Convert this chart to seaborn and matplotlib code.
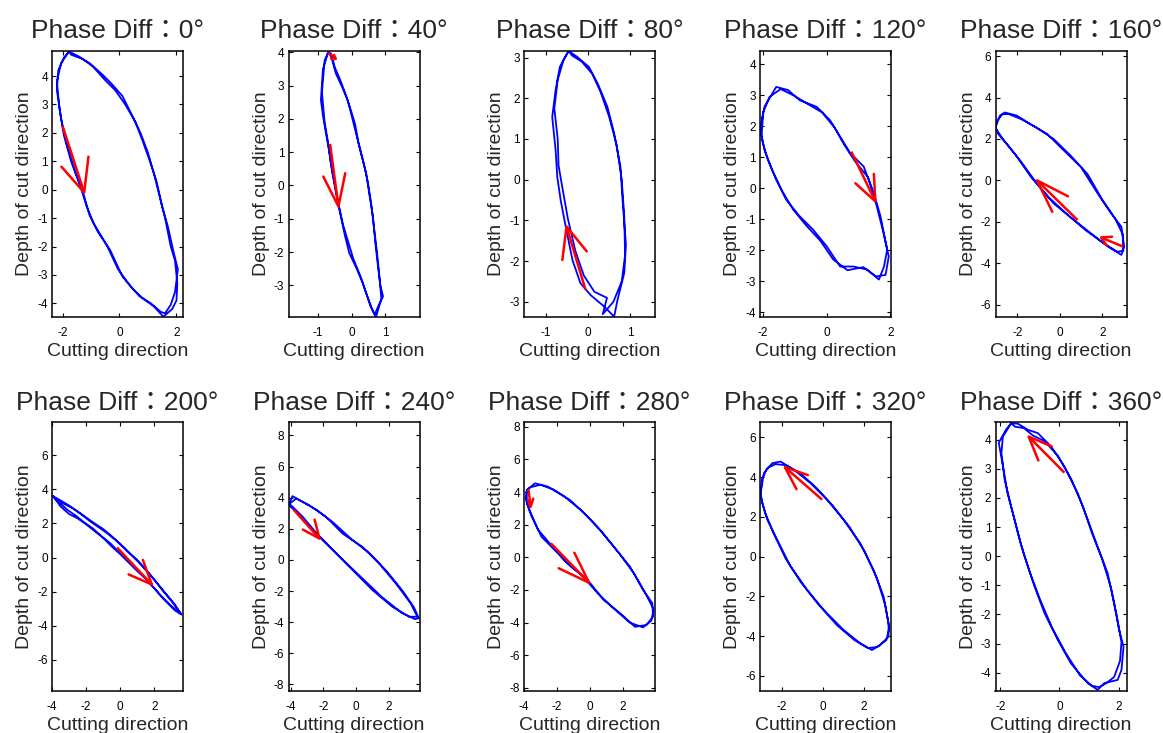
import matplotlib
matplotlib.use("Agg")
import matplotlib.pyplot as plt
import seaborn as sns

# phase differences (deg)
phases = [0, 40, 80, 120, 160, 200, 240, 280, 320, 360]

# --- tool-tip trajectories (two laps each) ---
x_000 = [-1.77, -1.45, -1.05, -0.6, -0.3, 0.1, 0.45, 0.74, 1.0, 1.2, 1.44, 1.6, 1.8, 1.95, 2.03, 2.0, 1.85, 1.54, 1.2, 0.85, 0.5, 0.1, -0.33, -0.75, -1.05, -1.27, -1.55, -1.85, -2.05, -2.2, -2.15, -1.95, -1.77,
         -1.7, -1.3, -0.95, -0.5, -0.15, 0.2, 0.55, 0.8, 1.05, 1.3, 1.5, 1.7, 1.9, 2.05, 1.95, 1.8, 1.6, 1.45, 1.1, 0.7, 0.35, -0.05, -0.45, -0.9, -1.15, -1.4, -1.7, -1.95, -2.1, -2.2, -2.05, -1.85, -1.77]
y_000 = [4.86, 4.7, 4.45, 4.05, 3.75, 3.3, 2.6, 1.99, 1.3, 0.6, -0.36, -1.0, -2.0, -2.5, -3.3, -3.9, -4.2, -4.47, -4.1, -3.85, -3.53, -3.05, -2.12, -1.5, -0.9, -0.13, 0.6, 1.6, 2.5, 3.51, 4.2, 4.65, 4.86,
         4.75, 4.6, 4.35, 3.85, 3.5, 3.0, 2.4, 1.75, 1.05, 0.3, -0.6, -1.3, -2.2, -2.8, -3.6, -4.05, -4.35, -4.3, -4.0, -3.75, -3.35, -2.8, -1.95, -1.2, -0.6, 0.2, 1.0, 1.9, 2.8, 3.8, 4.45, 4.75, 4.86]

x_040 = [-0.69, -0.59, -0.47, -0.3, -0.12, 0.0, 0.13, 0.28, 0.43, 0.53, 0.63, 0.7, 0.78, 0.85, 0.93, 0.8, 0.68, 0.55, 0.33, 0.15, -0.07, -0.2, -0.32, -0.45, -0.57, -0.66, -0.76, -0.85, -0.91, -0.85, -0.69,
         -0.6, -0.5, -0.35, -0.2, -0.05, 0.1, 0.2, 0.35, 0.48, 0.58, 0.66, 0.75, 0.82, 0.88, 0.78, 0.72, 0.6, 0.42, 0.25, 0.05, -0.1, -0.25, -0.38, -0.5, -0.62, -0.7, -0.8, -0.88, -0.8, -0.69]
y_040 = [4.02, 3.82, 3.37, 3.0, 2.57, 2.1, 1.57, 0.95, 0.37, -0.3, -0.93, -1.7, -2.43, -3.0, -3.33, -3.6, -3.88, -3.6, -2.93, -2.5, -2.03, -1.5, -0.93, -0.3, 0.37, 1.0, 1.57, 2.1, 2.57, 3.5, 4.02,
         3.95, 3.55, 3.2, 2.8, 2.35, 1.85, 1.3, 0.7, 0.1, -0.55, -1.25, -2.0, -2.7, -3.4, -3.75, -3.95, -3.7, -3.2, -2.7, -2.2, -1.7, -1.2, -0.6, 0.05, 0.7, 1.3, 1.9, 2.8, 3.75, 4.02]

x_080 = [-0.46, -0.25, 0.02, 0.23, 0.46, 0.62, 0.77, 0.82, 0.9, 0.86, 0.7, 0.62, 0.38, 0.06, -0.18, -0.37, -0.53, -0.65, -0.73, -0.77, -0.85, -0.77, -0.67, -0.46,
         -0.38, -0.15, 0.1, 0.3, 0.5, 0.68, 0.8, 0.86, 0.88, 0.8, 0.6, 0.35, 0.45, 0.15, -0.1, -0.3, -0.48, -0.6, -0.7, -0.72, -0.8, -0.72, -0.58, -0.46]
y_080 = [3.16, 3.01, 2.77, 2.36, 1.79, 1.14, 0.32, -0.5, -1.6, -2.29, -2.95, -3.36, -3.11, -2.83, -2.54, -1.97, -1.15, -0.5, 0.07, 0.73, 1.54, 2.2, 2.77, 3.16,
         3.05, 2.9, 2.6, 2.15, 1.55, 0.85, 0.0, -0.9, -1.85, -2.5, -3.0, -3.3, -2.9, -2.75, -2.35, -1.75, -0.95, -0.25, 0.35, 1.0, 1.75, 2.45, 2.95, 3.16]

x_120 = [-2.09, -1.96, -1.59, -1.22, -0.85, -0.32, 0.1, 0.42, 0.74, 1.16, 1.48, 1.69, 1.9, 1.8, 1.64, 1.27, 0.84, 0.42, 0.0, -0.43, -0.85, -1.27, -1.59, -1.85, -2.01, -2.09,
         -2.0, -1.8, -1.45, -1.05, -0.65, -0.15, 0.25, 0.55, 0.9, 1.3, 1.55, 1.75, 1.95, 1.85, 1.55, 1.15, 0.65, 0.2, -0.2, -0.65, -1.05, -1.4, -1.7, -1.95, -2.05, -2.0]
y_120 = [1.88, 2.63, 3.27, 3.17, 2.84, 2.63, 2.2, 1.66, 1.13, 0.7, -0.16, -0.91, -1.99, -2.53, -2.95, -2.63, -2.53, -2.53, -1.88, -1.34, -0.91, -0.38, 0.27, 0.91, 1.45, 1.88,
         2.45, 2.95, 3.2, 3.0, 2.75, 2.45, 1.95, 1.4, 0.85, 0.35, -0.5, -1.3, -2.2, -2.8, -2.85, -2.55, -2.65, -2.3, -1.7, -1.2, -0.7, -0.1, 0.55, 1.2, 1.7, 2.45]

x_160 = [-3.03, -2.82, -2.59, -2.03, -1.4, -0.6, 0.19, 0.99, 1.78, 2.41, 2.89, 3.02, 2.89, 2.26, 1.46, 0.67, -0.29, -1.08, -1.87, -2.5, -2.9, -3.03,
         -2.95, -2.7, -2.4, -1.8, -1.1, -0.3, 0.5, 1.3, 2.0, 2.6, 2.95, 2.98, 2.7, 2.0, 1.2, 0.4, -0.55, -1.35, -2.1, -2.65, -2.95, -3.03]
y_160 = [2.56, 3.13, 3.28, 3.13, 2.72, 2.24, 1.44, 0.64, -0.64, -1.6, -2.24, -3.2, -3.6, -3.2, -2.56, -1.92, -1.12, -0.16, 0.96, 1.76, 2.24, 2.56,
         2.9, 3.2, 3.2, 2.95, 2.55, 2.0, 1.2, 0.3, -0.95, -1.85, -2.6, -3.4, -3.45, -3.0, -2.4, -1.7, -0.8, 0.15, 1.25, 1.95, 2.4, 2.56]

x_200 = [-3.94, -3.5, -3.0, -2.5, -2.0, -1.5, -1.0, -0.5, 0.0, 0.5, 1.0, 1.5, 2.0, 2.5, 3.0, 3.6, 3.2, 2.5, 2.0, 1.5, 1.0, 0.5, 0.0, -0.5, -1.0, -1.5, -2.0, -2.5, -3.0, -3.5, -3.94,
         -3.8, -3.3, -2.8, -2.3, -1.8, -1.3, -0.8, -0.3, 0.2, 0.7, 1.2, 1.7, 2.2, 2.7, 3.2, 3.55, 3.0, 2.4, 1.9, 1.4, 0.9, 0.4, -0.1, -0.6, -1.1, -1.6, -2.1, -2.6, -3.1, -3.6, -3.94]
y_200 = [3.6, 3.35, 3.05, 2.7, 2.35, 2.0, 1.67, 1.25, 0.8, 0.3, -0.15, -0.7, -1.3, -1.95, -2.55, -3.35, -3.1, -2.4, -1.8, -1.25, -0.8, -0.3, 0.2, 0.65, 1.15, 1.55, 1.95, 2.3, 2.55, 3.0, 3.6,
         3.45, 3.15, 2.9, 2.55, 2.15, 1.8, 1.45, 1.05, 0.6, 0.1, -0.4, -0.95, -1.55, -2.15, -2.75, -3.3, -2.85, -2.25, -1.7, -1.15, -0.6, -0.15, 0.35, 0.85, 1.25, 1.7, 2.05, 2.45, 2.8, 3.25, 3.6]

x_240 = [-4.1, -3.66, -2.85, -1.83, -0.82, 0.4, 1.42, 2.44, 3.35, 3.76, 3.25, 2.23, 1.01, -0.2, -1.22, -2.24, -3.26, -3.87, -4.1,
         -3.9, -3.3, -2.4, -1.4, -0.3, 0.8, 1.9, 2.9, 3.55, 3.85, 3.6, 2.8, 1.6, 0.4, -0.7, -1.7, -2.8, -3.6, -4.05, -4.1]
y_240 = [3.6, 3.94, 3.5, 2.76, 1.69, 0.83, -0.23, -1.51, -2.79, -3.65, -3.65, -3.01, -1.94, -0.66, 0.41, 1.47, 2.76, 3.4, 3.6,
         4.1, 3.75, 3.2, 2.4, 1.35, 0.45, -0.75, -2.05, -3.05, -3.75, -3.8, -3.4, -2.4, -1.2, -0.1, 0.95, 2.1, 3.05, 3.45, 3.6]

x_280 = [-3.83, -3.33, -2.54, -1.55, -0.55, 0.44, 1.43, 2.42, 3.21, 3.77, 3.81, 3.42, 2.72, 1.83, 0.83, -0.15, -1.15, -2.14, -2.94, -3.53, -3.83, -3.83,
         -3.6, -3.0, -2.2, -1.2, -0.2, 0.8, 1.8, 2.7, 3.4, 3.85, 3.7, 3.2, 2.4, 1.5, 0.5, -0.5, -1.5, -2.4, -3.15, -3.65, -3.9, -3.83]
y_280 = [4.13, 4.54, 4.33, 3.72, 2.9, 1.88, 0.65, -0.58, -2.0, -2.82, -3.64, -4.15, -4.26, -3.44, -2.62, -1.39, -0.58, 0.45, 1.26, 2.49, 3.31, 4.13,
         4.3, 4.45, 4.15, 3.5, 2.55, 1.45, 0.2, -1.05, -2.3, -3.2, -3.9, -4.3, -4.0, -3.2, -2.25, -1.1, -0.25, 0.8, 1.7, 2.85, 3.6, 4.13]

x_320 = [-3.02, -2.86, -2.45, -2.05, -1.4, -0.59, 0.22, 1.02, 1.83, 2.48, 2.97, 3.21, 3.21, 2.8, 2.4, 1.83, 1.02, 0.05, -0.75, -1.56, -2.21, -2.69, -2.94, -3.02,
         -2.95, -2.7, -2.3, -1.8, -1.1, -0.3, 0.5, 1.3, 2.05, 2.65, 3.05, 3.25, 3.1, 2.65, 2.2, 1.55, 0.7, -0.25, -1.05, -1.8, -2.4, -2.8, -3.0, -3.02]
y_320 = [3.19, 4.2, 4.7, 4.78, 4.37, 3.7, 2.86, 1.85, 0.67, -0.67, -2.01, -3.36, -4.03, -4.45, -4.7, -4.36, -3.69, -2.68, -1.68, -0.5, 0.84, 1.85, 2.69, 3.19,
         3.9, 4.45, 4.65, 4.6, 4.2, 3.45, 2.55, 1.5, 0.25, -1.1, -2.45, -3.6, -4.2, -4.55, -4.6, -4.2, -3.45, -2.35, -1.3, -0.1, 1.2, 2.2, 2.95, 3.19]

x_360 = [-1.63, -1.4, -1.06, -0.73, -0.28, 0.17, 0.62, 0.96, 1.29, 1.63, 1.85, 2.02, 2.17, 2.1, 1.97, 1.52, 1.29, 0.96, 0.39, -0.05, -0.5, -0.84, -1.18, -1.4, -1.63, -1.85, -1.96, -1.91, -1.63,
         -1.5, -1.2, -0.9, -0.5, -0.05, 0.4, 0.8, 1.1, 1.45, 1.75, 1.95, 2.1, 2.05, 1.85, 1.6, 1.35, 1.1, 0.7, 0.2, -0.25, -0.65, -1.0, -1.3, -1.5, -1.75, -1.9, -2.05, -1.8, -1.63]
y_360 = [4.57, 4.55, 4.34, 4.23, 3.77, 3.08, 2.16, 1.25, 0.33, -0.58, -1.62, -2.53, -3.11, -3.91, -4.25, -4.36, -4.59, -4.36, -3.68, -2.88, -1.96, -1.04, 0.0, 0.79, 1.7, 2.62, 3.54, 4.11, 4.57,
         4.45, 4.4, 4.15, 3.95, 3.45, 2.65, 1.7, 0.8, -0.1, -1.1, -2.1, -2.95, -3.6, -4.15, -4.35, -4.5, -4.45, -4.1, -3.3, -2.45, -1.5, -0.55, 0.4, 1.2, 2.15, 3.05, 3.9, 4.35, 4.57]

# --- direction arrows: [tail, tip, wing1, wing2] ---
arrows = {
    0: [([-2.0, -1.24, -2.04, -1.09], [2.24, -0.1, 0.81, 1.16])],
    40: [([-0.64, -0.39, -0.84, -0.19], [1.25, -0.63, 0.27, 0.37]),
         ([-0.7, -0.47, -0.6, -0.52], [3.98, 3.8, 3.8, 3.92])],
    80: [([-0.06, -0.51, -0.61, -0.03], [-2.7, -1.15, -1.97, -1.76])],
    120: [([0.77, 1.53, 0.9, 1.48], [1.18, -0.43, 0.16, 0.46])],
    160: [([0.83, -1.08, -0.36, 0.38], [-1.92, 0.0, -1.52, -0.77]),
          ([2.97, 1.94, 2.45, 2.2], [-3.2, -2.76, -2.72, -3.15])],
    200: [([-0.19, 1.85, 0.49, 1.33], [0.59, -1.58, -0.99, -0.14])],
    240: [([-3.83, -2.24, -3.26, -2.54], [3.23, 1.37, 1.95, 2.59])],
    280: [([-2.38, -0.06, -1.9, -0.95], [0.86, -1.56, -0.67, 0.28]),
          ([-3.73, -3.6, -3.75, -3.44], [4.17, 3.1, 3.5, 3.6])],
    320: [([-0.02, -1.84, -1.27, -0.72], [2.86, 4.5, 3.39, 4.1])],
    360: [([0.17, -1.04, -0.71, -0.26], [2.87, 4.11, 3.29, 3.77])],
}

# axis limits and ticks per panel
xlims = [(-2.37, 2.23), (-1.87, 2.01), (-1.52, 1.59), (-2.1, 2.02), (-3.03, 3.13),
         (-4.0, 3.68), (-4.14, 3.89), (-3.92, 3.93), (-3.05, 3.33), (-2.16, 2.27)]
ylims = [(-4.48, 4.88), (-3.95, 4.04), (-3.37, 3.16), (-4.16, 4.43), (-6.6, 6.25),
         (-7.83, 7.95), (-8.42, 8.86), (-8.2, 8.3), (-6.76, 6.77), (-4.63, 4.61)]
xticks = [[-2, 0, 2], [-1, 0, 1], [-1, 0, 1], [-2, 0, 2], [-2, 0, 2],
          [-4, -2, 0, 2], [-4, -2, 0, 2], [-4, -2, 0, 2], [-2, 0, 2], [-2, 0, 2]]
yticks = [list(range(-4, 5)), list(range(-3, 5)), list(range(-3, 4)), list(range(-4, 5)), list(range(-6, 7, 2)),
          list(range(-6, 7, 2)), list(range(-8, 9, 2)), list(range(-8, 9, 2)), list(range(-6, 7, 2)), list(range(-4, 5))]

traj = [(x_000, y_000), (x_040, y_040), (x_080, y_080), (x_120, y_120), (x_160, y_160),
        (x_200, y_200), (x_240, y_240), (x_280, y_280), (x_320, y_320), (x_360, y_360)]

sns.set_style("ticks")
plt.rcParams["font.family"] = ["Liberation Sans", "Noto Sans CJK TC"]
plt.rcParams["axes.unicode_minus"] = False

W, H = 1163, 733
fig = plt.figure(figsize=(W / 100, H / 100), dpi=100)

lefts = [52, 288.5, 524, 760, 995.5]
rows = [(51, 317), (422, 691)]

for i, ph in enumerate(phases):
    r, c = divmod(i, 5)
    top, bot = rows[r]
    ax = fig.add_axes([lefts[c] / W, (H - bot) / H, 131 / W, (bot - top) / H])
    xs, ys = traj[i]
    sns.lineplot(x=xs, y=ys, sort=False, estimator=None, color="blue", lw=1.3, ax=ax)
    for ax_, ay_ in arrows[ph]:
        ax.plot(ax_[:2], ay_[:2], color="red", lw=1.8, solid_capstyle="butt")
        ax.plot([ax_[2], ax_[1], ax_[3]], [ay_[2], ay_[1], ay_[3]], color="red", lw=1.8)
    ax.set_xlim(*xlims[i])
    ax.set_ylim(*ylims[i])
    ax.set_xticks(xticks[i])
    ax.set_yticks(yticks[i])
    ax.tick_params(direction="in", top=True, right=True, length=3, width=0.8,
                   labelsize=8.5, pad=3, colors="black")
    ax.tick_params(axis="x", pad=7)
    for sp in ax.spines.values():
        sp.set_visible(True)
        sp.set_linewidth(1.1)
        sp.set_color("black")
    ax.set_title(f"Phase Diff：{ph}°", fontsize=19, pad=9)
    ax.set_xlabel("Cutting direction", fontsize=14, labelpad=3)
    ax.set_ylabel("Depth of cut direction", fontsize=14, labelpad=3)

fig.savefig("out.png", dpi=100, facecolor="white")
